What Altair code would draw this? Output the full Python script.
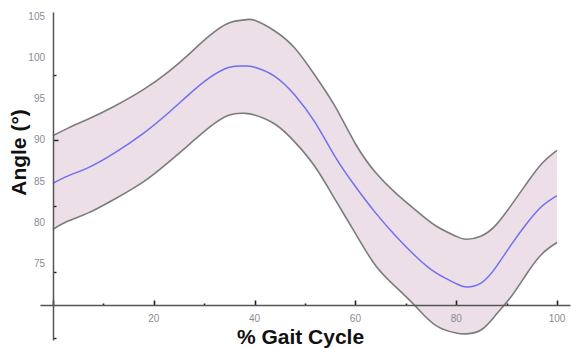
import altair as alt
import pandas as pd

# % gait cycle sample points
gait = [0, 3, 7, 12, 18, 23, 27, 31, 35, 38, 40, 44, 48, 52, 56, 60, 64, 68,
        72, 76, 80, 82, 85, 88, 91, 94, 97, 100]
upper = [90.6, 91.5, 92.6, 94.1, 96.2, 98.4, 100.5, 102.7, 104.3, 104.65, 104.6,
         103.3, 101.2, 97.9, 94.1, 89.6, 86.1, 83.6, 81.5, 79.6, 78.35, 78.0,
         78.4, 79.8, 82.2, 84.8, 87.2, 88.8]
mean = [84.8, 85.7, 86.7, 88.4, 90.9, 93.4, 95.6, 97.6, 98.9, 99.05, 98.9,
        97.8, 95.5, 92.2, 88.0, 84.4, 81.2, 78.4, 75.9, 73.9, 72.6, 72.2,
        72.7, 74.7, 77.4, 79.9, 82.0, 83.3]
lower = [79.2, 80.2, 81.2, 82.8, 85.0, 87.4, 89.5, 91.6, 93.1, 93.3, 93.1,
         92.0, 89.8, 86.8, 82.8, 78.7, 74.8, 72.2, 69.8, 67.5, 66.6, 66.5,
         67.0, 68.9, 71.1, 73.8, 76.2, 77.6]

x_ticks = list(range(0, 101, 5))       # ticks every 5 %, long ones every 20
y_ticks = list(range(66, 106))         # ticks every degree, long ones every 5
x_labels = [20, 40, 60, 80, 100]
y_labels = [75, 80, 85, 90, 95, 100, 105]
x_cross = 0      # the y axis crosses at gait = 0
y_cross = 70     # the x axis crosses at angle = 70

df = pd.DataFrame({"gait": gait, "upper": upper, "mean": mean, "lower": lower})
xlab_df = pd.DataFrame({"v": x_labels, "at": [y_cross] * len(x_labels)})
ylab_df = pd.DataFrame({"v": y_labels, "at": [x_cross] * len(y_labels)})

xscale = alt.Scale(domain=[-2.58, 102.58], nice=False, zero=False)
yscale = alt.Scale(domain=[65.75, 105.61], nice=False, zero=False)

font = "Liberation Sans"
tick_col = "#222222"
label_col = "#8a8a96"
interp = "natural"

# x axis on the y=70 line, ticks pointing up (inward); its own labels left blank
x_axis = alt.Axis(
    orient="top", offset=-293, values=x_ticks, labelExpr="''", labelOverlap=False,
    labelFontSize=1, labelOpacity=0,
    tickSize={"condition": {"test": "datum.value % 20 === 0", "value": 5}, "value": 2},
    tickColor=tick_col, tickWidth=1.6, tickRound=True,
    domainColor="#555", domainWidth=1.5, grid=False, zindex=1,
    title="% Gait Cycle", titleFont=font, titleFontSize=21, titleFontWeight="bold",
    titleColor="#111", titleX=260, titleY=38, titleBaseline="alphabetic", titleAlign="center",
    titleAngle=0,
)
# y axis on the x=0 line, ticks pointing right (inward); its own labels left blank
y_axis = alt.Axis(
    orient="right", offset=-517, values=y_ticks, labelExpr="''", labelOverlap=False,
    labelFontSize=1, labelOpacity=0,
    tickSize={"condition": {"test": "datum.value % 5 === 0", "value": 5}, "value": 3},
    tickColor=tick_col, tickWidth=1.4, tickRound=True,
    domainColor="#555", domainWidth=1.5, grid=False, zindex=1,
    title="Angle (°)", titleFont=font, titleFontSize=21, titleFontWeight="bold",
    titleColor="#111", titleX=-28, titleY=140, titleAngle=270, titleBaseline="alphabetic",
    titleAlign="center",
)

base = alt.Chart(df)

band = base.mark_area(color="#ecdfe8", opacity=1, interpolate=interp).encode(
    x=alt.X("gait:Q", scale=xscale, axis=x_axis),
    y=alt.Y("upper:Q", scale=yscale, axis=y_axis),
    y2="lower:Q",
)
up_line = base.mark_line(color="#7c7c7c", strokeWidth=1.6, interpolate=interp).encode(
    x=alt.X("gait:Q", scale=xscale),
    y=alt.Y("upper:Q", scale=yscale),
)
lo_line = base.mark_line(color="#7c7c7c", strokeWidth=1.6, interpolate=interp).encode(
    x=alt.X("gait:Q", scale=xscale),
    y=alt.Y("lower:Q", scale=yscale),
)
mean_line = base.mark_line(color="#6f6ff0", strokeWidth=1.5, interpolate=interp).encode(
    x=alt.X("gait:Q", scale=xscale),
    y=alt.Y("mean:Q", scale=yscale),
)

# tick labels placed through the same scales
x_tick_labels = alt.Chart(xlab_df).mark_text(
    align="center", baseline="top", dy=9, font=font, fontSize=10, color=label_col
).encode(
    x=alt.X("v:Q", scale=xscale),
    y=alt.Y("at:Q", scale=yscale),
    text=alt.Text("v:Q"),
)
y_tick_labels = alt.Chart(ylab_df).mark_text(
    align="right", baseline="middle", dx=-8, font=font, fontSize=10, color=label_col
).encode(
    x=alt.X("at:Q", scale=xscale),
    y=alt.Y("v:Q", scale=yscale),
    text=alt.Text("v:Q"),
)

chart = alt.layer(
    band, up_line, lo_line, mean_line, x_tick_labels, y_tick_labels
).properties(
    width=530, height=328,
    autosize=alt.AutoSizeParams(type="none"),
    padding={"left": 40, "top": 12, "right": 1, "bottom": 8},
    background="white",
).configure_view(strokeWidth=0, stroke="transparent")

chart.save("out.html", embed_options={"renderer": "svg", "actions": False})
